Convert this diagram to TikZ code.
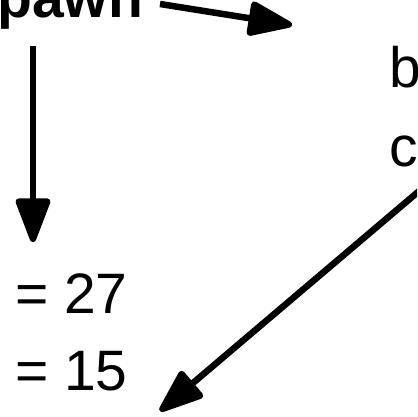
\documentclass[tikz,border=0pt]{standalone}
\usepackage{fontspec}
\setmainfont{Liberation Sans}
\usetikzlibrary{arrows.meta}
\begin{document}
\begin{tikzpicture}[x=1pt,y=-1pt,
  lbl/.style={anchor=base west,inner sep=0pt,font=\fontsize{57pt}{60pt}\selectfont},
  conn/.style={line width=6.5pt,-{Triangle[length=50pt,width=36pt,round]}}]
\useasboundingbox (0,0) rectangle (417,417);
\clip (0,0) rectangle (417,417);
\node[lbl,font=\fontsize{57pt}{60pt}\selectfont\bfseries] (pawn) at (-3,18) {pawn};
\node[lbl] (b) at (389,88) {b};
\node[lbl] (c) at (389,166) {c};
\node[lbl] (v1) at (15,313) {= 27};
\node[lbl] (v2) at (15,390) {= 15};
\coordinate (p1) at (160,4);
\coordinate (q1) at (292,25);
\coordinate (p2) at (33,46);
\coordinate (q2) at (33,242);
\coordinate (p3) at (425,186);
\coordinate (q3) at (160,411);
\draw[conn] (p1) -- (q1);
\draw[conn] (p2) -- (q2);
\draw[conn] (p3) -- (q3);
\end{tikzpicture}
\end{document}
